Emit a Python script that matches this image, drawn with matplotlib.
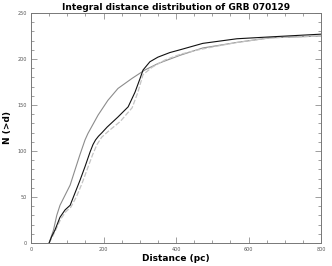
import matplotlib
matplotlib.use("Agg")
import matplotlib.pyplot as plt
from matplotlib.ticker import MultipleLocator

# distance (pc) and cumulative counts N(>d)
d_black = [50, 57, 66, 80, 94, 108, 121, 135, 149, 163, 171, 178, 186, 196, 210, 240, 268, 287, 301, 309, 328, 350, 383, 411, 474, 568, 659, 800]
n_black = [0, 7, 14, 28, 36, 41, 54, 68, 83, 99, 107, 112, 116, 120, 126, 137, 148, 164, 179, 188, 197, 202, 207, 210, 217, 222, 224, 227]

d_light = [50, 58, 68, 82, 96, 110, 125, 140, 155, 170, 182, 195, 215, 246, 279, 295, 309, 334, 370, 411, 450, 500, 568, 659, 800]
n_light = [0, 6, 14, 26, 34, 39, 50, 64, 80, 96, 107, 115, 122, 132, 147, 164, 183, 191, 199, 205, 209, 213, 218, 223, 225]

d_gray = [50, 55, 62, 71, 80, 94, 108, 121, 135, 149, 157, 185, 212, 240, 279, 314, 350, 411, 474, 568, 659, 800]
n_gray = [0, 6, 14, 30, 41, 52, 63, 79, 96, 112, 119, 139, 155, 168, 179, 188, 195, 204, 212, 218, 223, 225]

fig = plt.figure(figsize=(3.32, 2.66), dpi=100)
ax = fig.add_axes([31/332, 1-243/266, 290/332, 230/266])

ax.plot(d_gray, n_gray, color="#8c8c8c", lw=0.8)
ax.plot(d_light, n_light, color="#c4c4c4", lw=0.9, ls=(0, (4, 1.5)))
ax.plot(d_black, n_black, color="#111111", lw=0.8)

ax.set_xlim(0, 800)
ax.set_ylim(0, 250)
ax.xaxis.set_major_locator(MultipleLocator(200))
ax.xaxis.set_minor_locator(MultipleLocator(50))
ax.yaxis.set_major_locator(MultipleLocator(50))
ax.yaxis.set_minor_locator(MultipleLocator(10))
ax.tick_params(which="both", direction="in", top=True, right=True,
               labelsize=3.5, labelcolor="#555555", color="#777777", width=0.5)
ax.tick_params(which="major", length=4, pad=3)
ax.tick_params(which="minor", length=2)
for s in ax.spines.values():
    s.set_color("#777777")
    s.set_linewidth(0.7)

ax.set_title("Integral distance distribution of GRB 070129", fontsize=6.5,
             fontweight="bold", pad=2)
ax.set_xlabel("Distance (pc)", fontsize=6.5, fontweight="bold", labelpad=1)
ax.set_ylabel("N (>d)", fontsize=6.5, fontweight="bold", labelpad=4)

fig.savefig("out.png", dpi=100)
